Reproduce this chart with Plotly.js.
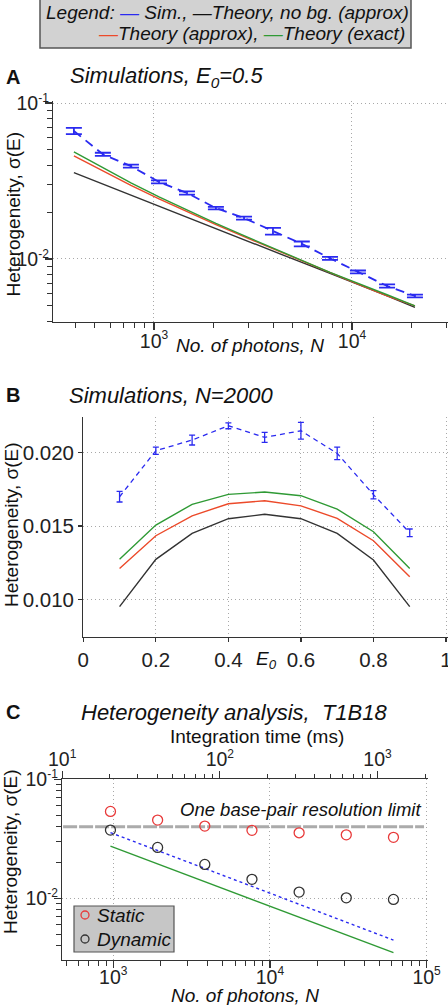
<!DOCTYPE html>
<html><head><meta charset="utf-8">
<script src="https://cdn.plot.ly/plotly-3.0.1.min.js"></script>
<style>html,body{margin:0;padding:0;background:#fff}#chart{width:448px;height:1005px}</style>
</head><body><div id="chart"></div>
<script>
// ---------- Panel A data: Simulations, E0 = 0.5 ----------
const photonsA = [394, 552, 765, 1060, 1468, 2055, 2850, 3990, 5580, 7745, 10720, 15040, 20800];
const simA = [0.0662, 0.0469, 0.0394, 0.0312, 0.0265, 0.0212, 0.0183, 0.0151, 0.0125, 0.0101, 0.00826, 0.00671, 0.00579];
const simAErr = [0.0030, 0.0011, 0.0009, 0.0007, 0.0006, 0.0004, 0.0004, 0.00075, 0.00045, 0.00022, 0.00018, 0.00016, 0.00012];
const noBgA = [0.0358, 0.0302, 0.0257, 0.0218, 0.0185, 0.0157, 0.0133, 0.0112, 0.0095, 0.0081, 0.0069, 0.0058, 0.0049];
const approxA = [0.0458, 0.0365, 0.0296, 0.0243, 0.0201, 0.0166, 0.0139, 0.0116, 0.0097, 0.0082, 0.0069, 0.0058, 0.0050];
const exactA = [0.0486, 0.0383, 0.0308, 0.0250, 0.0205, 0.0169, 0.0141, 0.0117, 0.0098, 0.0082, 0.0070, 0.0059, 0.0050];

// ---------- Panel B data: Simulations, N = 2000 ----------
const e0B = [0.1, 0.2, 0.3, 0.4, 0.5, 0.6, 0.7, 0.8, 0.9];
const simB = [0.0170, 0.02014, 0.02087, 0.02184, 0.02105, 0.0215, 0.01996, 0.01714, 0.01454];
const simBErr = [0.00036, 0.00025, 0.00034, 0.0002, 0.00034, 0.00057, 0.00043, 0.00028, 0.00026];
const noBgB = [0.0095, 0.01273, 0.0145, 0.0155, 0.0158, 0.0155, 0.0145, 0.01268, 0.0095];
const approxB = [0.01211, 0.01434, 0.0157, 0.01652, 0.01673, 0.01638, 0.01552, 0.0140, 0.01154];
const exactB = [0.01273, 0.01507, 0.01648, 0.01716, 0.01732, 0.01707, 0.01616, 0.01461, 0.01211];

// ---------- Panel C data: Heterogeneity analysis, T1B18 ----------
const photonsC = [960, 1920, 3840, 7680, 15360, 30720, 61440];
const integrationTimeMs = [20, 40, 80, 160, 320, 640, 1280];
const staticC = [0.0538, 0.0455, 0.0405, 0.0373, 0.0356, 0.0342, 0.0326];
const dynamicC = [0.0375, 0.0268, 0.0193, 0.01445, 0.0113, 0.0101, 0.0098];
const simFitC = [0.0357, 0.0252, 0.0179, 0.0126, 0.0089, 0.0063, 0.00446];
const exactC = [0.0275, 0.0195, 0.0138, 0.0097, 0.0069, 0.0049, 0.0035];
const resolutionLimit = 0.04;

// ---------- tick values / labels ----------
const sup = (b, e) => b + '<sup><span style="font-size:12px">' + e + '</span></sup>';
const xTicksA = [1e3, 1e4];
const xTickTextA = [sup('10', '3'), sup('10', '4')];
const yTicksA = [0.01, 0.1];
const yTickTextA = [sup('10', '-2'), sup('10', '-1')];
const xTicksC = [1e3, 1e4, 1e5];
const xTickTextC = [sup('10', '3'), sup('10', '4'), sup('10', '5')];
const topTicksC = [10, 100, 1000];
const topTickTextC = [sup('10', '1'), sup('10', '2'), sup('10', '3')];
const yTicksC = [0.01, 0.1];
const yTickTextC = [sup('10', '-2'), sup('10', '-1')];

function minorVals(lo, hi) {
  const v = [];
  for (let d = lo; d < hi; d++) for (let k = 2; k <= 9; k++) v.push(k * Math.pow(10, d));
  return v;
}

// ---------- styling ----------
const F = 'Liberation Sans, Arial, sans-serif';
const BLUE = '#2a2af0', RED = '#ec4a2a', GREEN = '#2f9a35', BLACK = '#333333';
const W = 448, H = 1005;
const px = x => x / W;
const py = y => 1 - y / H;

function axisBase(extra) {
  return Object.assign({
    showline: true, linecolor: '#333', linewidth: 1.2,
    ticks: 'outside', ticklen: 6, tickwidth: 1.2, tickcolor: '#333',
    showgrid: true, gridcolor: '#a8a8a8', griddash: '1px,3px', gridwidth: 1,
    zeroline: false, fixedrange: true, ticklabeloverflow: 'allow',
    tickfont: {family: F, size: 19.5, color: '#222'}
  }, extra);
}
function logAxis(tv, tt, minor, extra) {
  return axisBase(Object.assign({
    type: 'log', tickmode: 'array', tickvals: tv, ticktext: tt, ticklen: 7,
    minor: {tickmode: 'array', tickvals: minor, ticks: 'outside', ticklen: 4.5, tickwidth: 1, tickcolor: '#333', showgrid: false}
  }, extra));
}

const traces = [
  // Panel A
  {x: photonsA, y: noBgA, xaxis: 'x', yaxis: 'y', mode: 'lines', line: {color: BLACK, width: 1.4}, name: 'Theory, no bg. (approx)'},
  {x: photonsA, y: approxA, xaxis: 'x', yaxis: 'y', mode: 'lines', line: {color: RED, width: 1.4}, name: 'Theory (approx)'},
  {x: photonsA, y: exactA, xaxis: 'x', yaxis: 'y', mode: 'lines', line: {color: GREEN, width: 1.4}, name: 'Theory (exact)'},
  {x: photonsA, y: simA, xaxis: 'x', yaxis: 'y', mode: 'lines', line: {color: BLUE, width: 1.8, dash: '9px,6px'}, name: 'Sim.',
   error_y: {type: 'data', array: simAErr, visible: true, color: BLUE, thickness: 1.8, width: 8}},
  // Panel B
  {x: e0B, y: noBgB, xaxis: 'x2', yaxis: 'y2', mode: 'lines', line: {color: BLACK, width: 1.4}, name: 'Theory, no bg. (approx)'},
  {x: e0B, y: approxB, xaxis: 'x2', yaxis: 'y2', mode: 'lines', line: {color: RED, width: 1.4}, name: 'Theory (approx)'},
  {x: e0B, y: exactB, xaxis: 'x2', yaxis: 'y2', mode: 'lines', line: {color: GREEN, width: 1.4}, name: 'Theory (exact)'},
  {x: e0B, y: simB, xaxis: 'x2', yaxis: 'y2', mode: 'lines', line: {color: BLUE, width: 1.3, dash: '5px,4px'}, name: 'Sim.',
   error_y: {type: 'data', array: simBErr, visible: true, color: BLUE, thickness: 1.3, width: 3}},
  // Panel C
  {x: photonsC, y: exactC, xaxis: 'x3', yaxis: 'y3', mode: 'lines', line: {color: GREEN, width: 1.4}, name: 'Theory (exact)'},
  {x: photonsC, y: simFitC, xaxis: 'x3', yaxis: 'y3', mode: 'lines', line: {color: BLUE, width: 1.4, dash: '3px,3px'}, name: 'Sim.'},
  {x: photonsC, y: staticC, xaxis: 'x3', yaxis: 'y3', mode: 'markers', name: 'Static',
   marker: {symbol: 'circle-open', size: 10, color: '#e83a3a', line: {width: 1.3, color: '#e83a3a'}}},
  {x: photonsC, y: dynamicC, xaxis: 'x3', yaxis: 'y3', mode: 'markers', name: 'Dynamic',
   marker: {symbol: 'circle-open', size: 10, color: BLACK, line: {width: 1.3, color: BLACK}}},
  // integration-time axis (top of panel C), same measurements placed on the time scale (invisible)
  {x: integrationTimeMs, y: staticC, xaxis: 'x4', yaxis: 'y3', mode: 'markers', name: 'Static (time)',
   marker: {size: 1, opacity: 0}, hoverinfo: 'skip'}
];

const ann = (x, y, text, opts) => Object.assign({
  xref: 'paper', yref: 'paper', x: px(x), y: py(y), text: text, showarrow: false,
  xanchor: 'center', yanchor: 'middle', font: {family: F, size: 19, color: '#111'}
}, opts || {});
const titleFont = {family: F, size: 22, color: '#111'};
const letterFont = {family: F, size: 20, color: '#111'};

const layout = {
  width: W, height: H, margin: {l: 0, r: 0, t: 0, b: 0},
  paper_bgcolor: '#fff', plot_bgcolor: 'rgba(0,0,0,0)', showlegend: false,
  font: {family: F, size: 19, color: '#222'},
  // Panel A
  xaxis: logAxis(xTicksA, xTickTextA, minorVals(2, 5), {domain: [px(53), 1], range: [2.490, 4.485], anchor: 'y', ticklabelstandoff: -6}),
  yaxis: logAxis(yTicksA, yTickTextA, minorVals(-3, -1), {domain: [py(322), py(101)], range: [-2.404, -0.987], anchor: 'x', ticklabelstandoff: -8}),
  // Panel B
  xaxis2: axisBase({domain: [px(83.3), 1], range: [0, 1.0055], dtick: 0.2, tick0: 0, anchor: 'y2', ticklen: 4, tickfont: {family: F, size: 20.5, color: '#222'}}),
  yaxis2: axisBase({domain: [py(636.7), py(417)], range: [0.00745, 0.02244], dtick: 0.005, tick0: 0, tickformat: '.3f', anchor: 'x2', ticklen: 4, tickfont: {family: F, size: 20.5, color: '#222'}}),
  // Panel C
  xaxis3: logAxis(xTicksC, xTickTextC, minorVals(2, 5), {domain: [px(62), px(427.7)], range: [2.673, 5.007], anchor: 'y3', ticklabelstandoff: -8}),
  xaxis4: logAxis(topTicksC, topTickTextC, minorVals(1, 4), {domain: [px(62), px(427.7)], range: [0.999, 3.318], anchor: 'y3', overlaying: 'x3', side: 'top', showgrid: false, ticklen: 7.5, ticklabelstandoff: -3}),
  yaxis3: logAxis(yTicksC, yTickTextC, minorVals(-3, -1), {domain: [py(960), py(779.3)], range: [-2.518, -0.999], anchor: 'x3', ticklabelstandoff: -8}),
  shapes: [
    // top legend box
    {type: 'rect', xref: 'paper', yref: 'paper', x0: px(40), x1: px(411), y0: py(48), y1: py(-2),
     fillcolor: '#d2d2d2', line: {color: '#555', width: 1.5}, layer: 'above'},
    // one base-pair resolution limit
    {type: 'line', xref: 'x3 domain', yref: 'y3', x0: 0.003, x1: 0.99, y0: resolutionLimit, y1: resolutionLimit,
     line: {color: '#ababab', width: 3, dash: '14px,2px'}, layer: 'below'},
    // panel C legend box
    {type: 'rect', xref: 'paper', yref: 'paper', x0: px(74), x1: px(174), y0: py(952), y1: py(906),
     fillcolor: '#c6c6c6', line: {color: '#555', width: 1.2}, layer: 'above'},
    {type: 'circle', xref: 'paper', yref: 'paper', x0: px(81), x1: px(89), y0: py(919), y1: py(911),
     line: {color: '#e83a3a', width: 1.3}, layer: 'above'},
    {type: 'circle', xref: 'paper', yref: 'paper', x0: px(81), x1: px(89), y0: py(943), y1: py(935),
     line: {color: BLACK, width: 1.3}, layer: 'above'}
  ],
  annotations: [
    // top legend
    ann(44, 12, '<i>Legend: <span style="color:' + BLUE + '">—</span> Sim., —Theory, no bg. (approx)</i>', {xanchor: 'left'}),
    ann(407, 33, '<i><span style="color:' + RED + '">—</span>Theory (approx), <span style="color:' + GREEN + '">—</span>Theory (exact)</i>', {xanchor: 'right'}),
    // Panel A
    ann(13, 77, '<b>A</b>', {font: letterFont}),
    ann(68, 77, '<i>Simulations, E<sub>0</sub>=0.5</i>', {xanchor: 'left', font: titleFont}),
    ann(250, 345, '<i>No. of photons, N</i>'),
    ann(12.5, 214, 'Heterogeneity, σ(E)', {textangle: -90}),
    // Panel B
    ann(13, 395, '<b>B</b>', {font: letterFont}),
    ann(67, 395, '<i>Simulations, N=2000</i>', {xanchor: 'left', font: titleFont}),
    ann(266, 660, '<i>E<sub>0</sub></i>'),
    ann(11, 525, 'Heterogeneity, σ(E)', {textangle: -90}),
    // Panel C
    ann(13, 712, '<b>C</b>', {font: letterFont}),
    ann(234, 712, '<i>Heterogeneity analysis,\u00a0 T1B18</i>', {font: titleFont}),
    ann(257, 736, 'Integration time (ms)'),
    ann(423, 809, '<i>One base-pair resolution limit</i>', {xanchor: 'right', font: {family: F, size: 18.5, color: '#111'}}),
    ann(245, 995, '<i>No. of photons, N</i>'),
    ann(10, 852, 'Heterogeneity, σ(E)', {textangle: -90}),
    ann(95, 915, '<i>Static</i>', {xanchor: 'left'}),
    ann(95, 939, '<i>Dynamic</i>', {xanchor: 'left'})
  ]
};

Plotly.newPlot('chart', traces, layout, {staticPlot: true, displayModeBar: false});
</script></body></html>
